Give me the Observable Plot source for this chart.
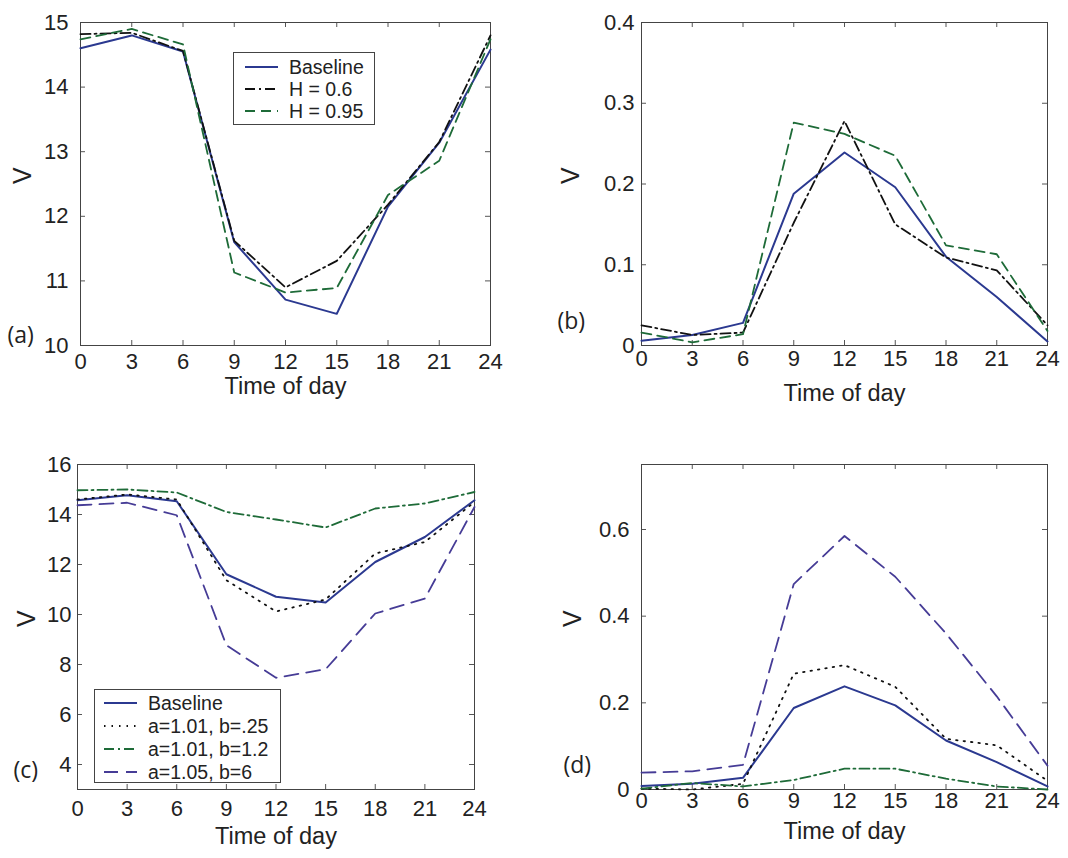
<!DOCTYPE html>
<html><head><meta charset="utf-8">
<script src="https://cdn.jsdelivr.net/npm/d3@7"></script>
<script src="https://cdn.jsdelivr.net/npm/@observablehq/plot@0.6"></script>
<style>
body{margin:0;background:#fff;}
#wrap{position:relative;width:1068px;height:858px;overflow:hidden;background:#fff;font-family:"Liberation Sans",Arial,sans-serif;}
.panel{position:absolute;}
.legend{position:absolute;}
</style></head><body><div id="wrap"></div>
<script>
// ---- data ----
const hours = [0, 3, 6, 9, 12, 15, 18, 21, 24];
const xTicks = [0, 3, 6, 9, 12, 15, 18, 21, 24];

// panel (a)
const aBaseline = [14.60, 14.80, 14.55, 11.60, 10.71, 10.49, 12.15, 13.14, 14.58];
const aH06      = [14.82, 14.84, 14.56, 11.62, 10.90, 11.31, 12.18, 13.15, 14.80];
const aH095     = [14.74, 14.90, 14.66, 11.13, 10.82, 10.89, 12.33, 12.86, 14.74];
const aTicks = [10, 11, 12, 13, 14, 15];

// panel (b)
const bBaseline = [0.006, 0.013, 0.028, 0.188, 0.239, 0.196, 0.110, 0.060, 0.005];
const bH06      = [0.025, 0.013, 0.016, 0.152, 0.278, 0.150, 0.109, 0.093, 0.025];
const bH095     = [0.016, 0.004, 0.014, 0.276, 0.262, 0.235, 0.124, 0.113, 0.018];
const bTicks = [0, 0.1, 0.2, 0.3, 0.4];

// panel (c)
const cBaseline = [14.57, 14.77, 14.53, 11.61, 10.71, 10.48, 12.10, 13.10, 14.57];
const cA101b025 = [14.60, 14.80, 14.60, 11.37, 10.12, 10.60, 12.44, 12.90, 14.50];
const cA101b12  = [14.97, 15.00, 14.88, 14.10, 13.80, 13.48, 14.24, 14.44, 14.90];
const cA105b6   = [14.37, 14.47, 13.97, 8.77, 7.47, 7.81, 10.04, 10.64, 14.30];
const cTicks = [4, 6, 8, 10, 12, 14, 16];

// panel (d)
const dBaseline = [0.008, 0.013, 0.027, 0.188, 0.238, 0.194, 0.113, 0.063, 0.007];
const dA101b025 = [0.002, 0.000, 0.013, 0.267, 0.287, 0.237, 0.117, 0.102, 0.020];
const dA101b12  = [0.002, 0.015, 0.007, 0.022, 0.048, 0.048, 0.025, 0.007, 0.000];
const dA105b6   = [0.039, 0.042, 0.057, 0.474, 0.585, 0.491, 0.360, 0.215, 0.055];
const dTicks = [0, 0.2, 0.4, 0.6];

const namesTop = ["Baseline", "H = 0.6", "H = 0.95"];
const namesBottom = ["Baseline", "a=1.01, b=.25", "a=1.01, b=1.2", "a=1.05, b=6"];

// ---- styles ----
const BLUE = "#2b3990", GREEN = "#1e6b38", BLACK = "#111", PURPLE = "#463c96";
const ST = {
  base:     {stroke: BLUE,   width: 2,   dash: null},
  dashdotK: {stroke: BLACK,  width: 1.8, dash: "10,4,2,4"},
  dashG:    {stroke: GREEN,  width: 1.8, dash: "10,6"},
  dot:      {stroke: BLACK,  width: 1.8, dash: "1.5,6"},
  dashdotG: {stroke: GREEN,  width: 1.8, dash: "10,4,2,4"},
  dashP:    {stroke: PURPLE, width: 1.8, dash: "14,8"}
};
const TICK_PX = 5;

function rows(values, name) { return hours.map((t, i) => ({t, v: values[i], s: name})); }

function panel(cfg) {
  const fw = cfg.w - cfg.ml - cfg.mr, fh = cfg.h - cfg.mt - cfg.mb;
  const [y0, y1] = cfg.yDomain;
  const dy = (y1 - y0) * TICK_PX / fh;   // tick length in y units
  const dx = 24 * TICK_PX / fw;          // tick length in x units
  const tickCol = "#555";
  const marks = [];
  // inward ticks on all four sides
  marks.push(
    Plot.ruleX(xTicks, {x: d => d, y1: y0, y2: y0 + dy, stroke: tickCol}),
    Plot.ruleX(xTicks, {x: d => d, y1: y1, y2: y1 - dy, stroke: tickCol}),
    Plot.ruleY(cfg.yTicks, {y: d => d, x1: 0, x2: dx, stroke: tickCol}),
    Plot.ruleY(cfg.yTicks, {y: d => d, x1: 24, x2: 24 - dx, stroke: tickCol})
  );
  marks.push(Plot.frame({stroke: "#444", strokeWidth: 1}));
  cfg.series.forEach(s => {
    marks.push(Plot.line(rows(s.values, s.name), {
      x: "t", y: "v", stroke: s.st.stroke, strokeWidth: s.st.width,
      strokeDasharray: s.st.dash, strokeLinejoin: "round"
    }));
  });
  marks.push(
    Plot.axisX({anchor: "bottom", ticks: xTicks, tickSize: 0, tickPadding: cfg.xPad, label: null, fontSize: 22, fill: "#222"}),
    Plot.axisY({anchor: "left", ticks: cfg.yTicks, tickSize: 0, tickPadding: cfg.yPad, label: null, fontSize: 22, fill: "#222", tickFormat: d3.format("")}),
    Plot.text(["Time of day"], {frameAnchor: "bottom", dy: cfg.xLabDy, lineAnchor: "top", fontSize: 23.5, fill: "#222"}),
    Plot.text(["V"], {frameAnchor: "left", dx: cfg.vDx, rotate: -90, fontSize: 25, fill: "#222"}),
    Plot.text([cfg.tag], {frameAnchor: "bottom-left", dx: cfg.tagDx, dy: cfg.tagDy, textAnchor: "start", lineAnchor: "bottom", fontSize: 23, fontFamily: "Open Sans", fill: "#222"})
  );
  return Plot.plot({
    width: cfg.w, height: cfg.h,
    marginLeft: cfg.ml, marginRight: cfg.mr, marginTop: cfg.mt, marginBottom: cfg.mb,
    x: {domain: [0, 24]},
    y: {domain: cfg.yDomain},
    style: {fontFamily: "Liberation Sans, Arial, sans-serif", fontSize: "22px", color: "#222", background: "white", overflow: "visible"},
    marks
  });
}

function legend(items, box) {
  const ns = "http://www.w3.org/2000/svg";
  const svg = document.createElementNS(ns, "svg");
  svg.setAttribute("width", box.w); svg.setAttribute("height", box.h);
  svg.setAttribute("class", "legend");
  svg.style.left = box.x + "px"; svg.style.top = box.y + "px";
  const r = document.createElementNS(ns, "rect");
  r.setAttribute("x", 0.5); r.setAttribute("y", 0.5);
  r.setAttribute("width", box.w - 1); r.setAttribute("height", box.h - 1);
  r.setAttribute("fill", "white"); r.setAttribute("stroke", "#444");
  svg.appendChild(r);
  items.forEach((it, i) => {
    const y = box.row0 + i * box.step;
    const l = document.createElementNS(ns, "line");
    l.setAttribute("x1", box.lx1); l.setAttribute("x2", box.lx2);
    l.setAttribute("y1", y); l.setAttribute("y2", y);
    l.setAttribute("stroke", it.st.stroke); l.setAttribute("stroke-width", it.st.width);
    if (it.st.dash) l.setAttribute("stroke-dasharray", it.st.dash);
    svg.appendChild(l);
    const t = document.createElementNS(ns, "text");
    t.setAttribute("x", box.tx); t.setAttribute("y", y);
    t.setAttribute("dy", "0.35em");
    t.setAttribute("font-size", "19.5px");
    t.setAttribute("font-family", "Liberation Sans, Arial, sans-serif");
    t.setAttribute("fill", "#222");
    t.textContent = it.name;
    svg.appendChild(t);
  });
  return svg;
}

const wrap = document.getElementById("wrap");
function place(el, x, y) { el.classList.add("panel"); el.style.left = x + "px"; el.style.top = y + "px"; wrap.appendChild(el); }

const topSeries = (b, h6, h95) => [
  {name: namesTop[0], values: b, st: ST.base},
  {name: namesTop[1], values: h6, st: ST.dashdotK},
  {name: namesTop[2], values: h95, st: ST.dashG}
];
const botSeries = (b, d1, d2, d3v) => [
  {name: namesBottom[0], values: b, st: ST.base},
  {name: namesBottom[1], values: d1, st: ST.dot},
  {name: namesBottom[2], values: d2, st: ST.dashdotG},
  {name: namesBottom[3], values: d3v, st: ST.dashP}
];

place(panel({w: 534, h: 420, ml: 80, mr: 44, mt: 22, mb: 75, yDomain: [10, 15], yTicks: aTicks,
  xPad: 8, yPad: 12, xLabDy: 32, vDx: -58, tag: "(a)", tagDx: -73, tagDy: -3,
  series: topSeries(aBaseline, aH06, aH095)}), 0, 0);
place(panel({w: 534, h: 420, ml: 107, mr: 21, mt: 22, mb: 75, yDomain: [0, 0.4], yTicks: bTicks,
  xPad: 5, yPad: 7, xLabDy: 39, vDx: -71, tag: "(b)", tagDx: -84, tagDy: -17,
  series: topSeries(bBaseline, bH06, bH095)}), 534, 0);
place(panel({w: 534, h: 438, ml: 77, mr: 60, mt: 44, mb: 69, yDomain: [3, 16], yTicks: cTicks,
  xPad: 11, yPad: 6, xLabDy: 38, vDx: -51, tag: "(c)", tagDx: -64, tagDy: -12,
  series: botSeries(cBaseline, cA101b025, cA101b12, cA105b6)}), 0, 420);
place(panel({w: 534, h: 438, ml: 107, mr: 21, mt: 44, mb: 69, yDomain: [0, 0.75], yTicks: dTicks,
  xPad: 3, yPad: 12, xLabDy: 33, vDx: -69, tag: "(d)", tagDx: -78, tagDy: -17,
  series: botSeries(dBaseline, dA101b025, dA101b12, dA105b6)}), 534, 420);

wrap.appendChild(legend(topSeries(aBaseline, aH06, aH095), {x: 233, y: 52, w: 142, h: 73, row0: 15, step: 22, lx1: 12, lx2: 45, tx: 56}));
wrap.appendChild(legend(botSeries(cBaseline, cA101b025, cA101b12, cA105b6), {x: 94, y: 689, w: 187, h: 94, row0: 14, step: 23, lx1: 10, lx2: 43, tx: 54}));
</script></body></html>
